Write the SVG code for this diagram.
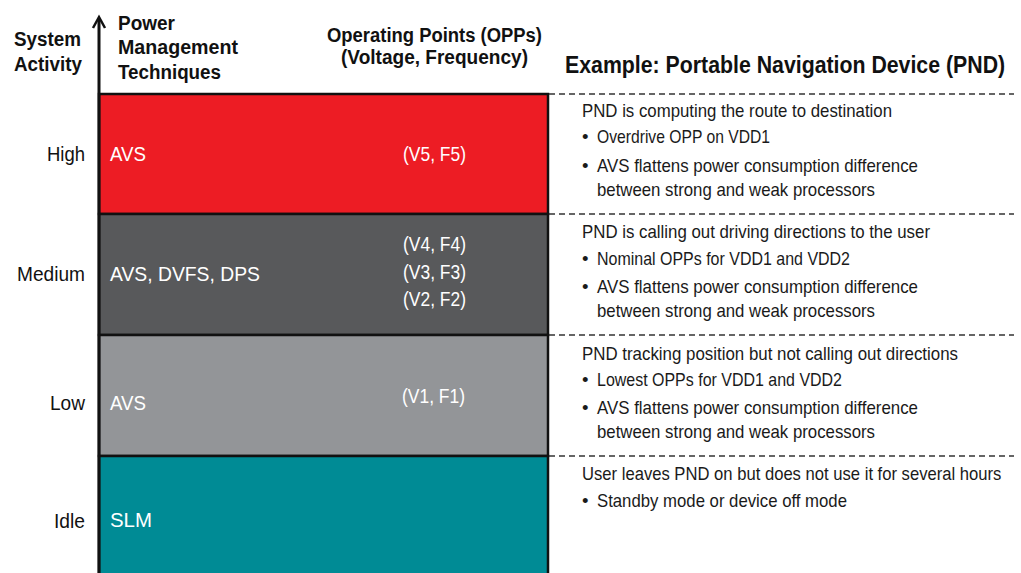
<svg xmlns="http://www.w3.org/2000/svg" width="1021" height="573" viewBox="0 0 1021 573">
<style>
text{font-family:"Liberation Sans",Arial,sans-serif}
.hb{font-weight:bold;font-size:20px;fill:#111}
.lvl{font-size:21px;fill:#111;text-anchor:end}
.bx{font-size:21px;fill:#fff}
.opp{font-size:21px;fill:#fff}
.rt{font-size:18.5px;fill:#1a1a1a}
.box{stroke:#111;stroke-width:2.5}
.dash{stroke:#333;stroke-width:1.5;stroke-dasharray:6 4;fill:none}
</style>
<rect width="1021" height="573" fill="#fff"/>
<g id="headers">
<text class="hb" x="14" y="46" textLength="67" lengthAdjust="spacingAndGlyphs">System</text>
<text class="hb" x="14" y="71" textLength="68" lengthAdjust="spacingAndGlyphs">Activity</text>
<text class="hb" x="118" y="30" textLength="57" lengthAdjust="spacingAndGlyphs">Power</text>
<text class="hb" x="118" y="54" textLength="120" lengthAdjust="spacingAndGlyphs">Management</text>
<text class="hb" x="118" y="79" textLength="103" lengthAdjust="spacingAndGlyphs">Techniques</text>
<text class="hb" x="327" y="42" textLength="215" lengthAdjust="spacingAndGlyphs">Operating Points (OPPs)</text>
<text class="hb" x="341" y="64" textLength="187" lengthAdjust="spacingAndGlyphs">(Voltage, Frequency)</text>
<text class="hb" transform="translate(565,73) scale(0.9,1)" style="font-size:23.5px" textLength="489" lengthAdjust="spacingAndGlyphs">Example: Portable Navigation Device (PND)</text>
</g>
<g id="levels">
<text class="lvl" x="85" y="161" textLength="38" lengthAdjust="spacingAndGlyphs">High</text>
<text class="lvl" x="85" y="281" textLength="68" lengthAdjust="spacingAndGlyphs">Medium</text>
<text class="lvl" x="85" y="410" textLength="35" lengthAdjust="spacingAndGlyphs">Low</text>
<text class="lvl" x="85" y="528" textLength="31" lengthAdjust="spacingAndGlyphs">Idle</text>
</g>
<g id="box-high">
<rect class="box" x="99" y="94" width="449" height="120" fill="#ED1C24"/>
<text class="bx" x="110" y="161" textLength="36" lengthAdjust="spacingAndGlyphs">AVS</text>
<text class="opp" x="403" y="161" textLength="63" lengthAdjust="spacingAndGlyphs">(V5, F5)</text>
</g>
<g id="box-medium">
<rect class="box" x="99" y="214" width="449" height="121" fill="#58595B"/>
<text class="bx" x="110" y="281" textLength="150" lengthAdjust="spacingAndGlyphs">AVS, DVFS, DPS</text>
<text class="opp" x="403" y="251" textLength="63" lengthAdjust="spacingAndGlyphs">(V4, F4)</text>
<text class="opp" x="403" y="279" textLength="63" lengthAdjust="spacingAndGlyphs">(V3, F3)</text>
<text class="opp" x="403" y="306" textLength="63" lengthAdjust="spacingAndGlyphs">(V2, F2)</text>
</g>
<g id="box-low">
<rect class="box" x="99" y="335" width="449" height="121" fill="#939598"/>
<text class="bx" x="110" y="410" textLength="36" lengthAdjust="spacingAndGlyphs">AVS</text>
<text class="opp" x="402" y="403" textLength="63" lengthAdjust="spacingAndGlyphs">(V1, F1)</text>
</g>
<g id="box-idle">
<rect class="box" x="99" y="456" width="449" height="130" fill="#008B95"/>
<text class="bx" x="110" y="527" textLength="42" lengthAdjust="spacingAndGlyphs">SLM</text>
</g>
<g id="connectors">
<line x1="99" y1="18" x2="99" y2="573" stroke="#111" stroke-width="3"/>
<polyline points="93,28 99,17 105,28" fill="none" stroke="#111" stroke-width="2.5"/>
<line class="dash" x1="549" y1="94" x2="1014" y2="94"/>
<line class="dash" x1="549" y1="214" x2="1014" y2="214"/>
<line class="dash" x1="549" y1="335" x2="1014" y2="335"/>
<line class="dash" x1="549" y1="456" x2="1014" y2="456"/>
</g>
<g id="desc-high">
<text class="rt" x="582" y="117" textLength="310" lengthAdjust="spacingAndGlyphs">PND is computing the route to destination</text>
<text class="rt" x="582" y="143">•</text>
<text class="rt" x="597" y="143" textLength="173" lengthAdjust="spacingAndGlyphs">Overdrive OPP on VDD1</text>
<text class="rt" x="582" y="172">•</text>
<text class="rt" x="597" y="172" textLength="321" lengthAdjust="spacingAndGlyphs">AVS flattens power consumption difference</text>
<text class="rt" x="597" y="196" textLength="278" lengthAdjust="spacingAndGlyphs">between strong and weak processors</text>
</g>
<g id="desc-medium">
<text class="rt" x="582" y="238" textLength="348" lengthAdjust="spacingAndGlyphs">PND is calling out driving directions to the user</text>
<text class="rt" x="582" y="265">•</text>
<text class="rt" x="597" y="265" textLength="253" lengthAdjust="spacingAndGlyphs">Nominal OPPs for VDD1 and VDD2</text>
<text class="rt" x="582" y="293">•</text>
<text class="rt" x="597" y="293" textLength="321" lengthAdjust="spacingAndGlyphs">AVS flattens power consumption difference</text>
<text class="rt" x="597" y="317" textLength="278" lengthAdjust="spacingAndGlyphs">between strong and weak processors</text>
</g>
<g id="desc-low">
<text class="rt" x="582" y="360" textLength="376" lengthAdjust="spacingAndGlyphs">PND tracking position but not calling out directions</text>
<text class="rt" x="582" y="386">•</text>
<text class="rt" x="597" y="386" textLength="245" lengthAdjust="spacingAndGlyphs">Lowest OPPs for VDD1 and VDD2</text>
<text class="rt" x="582" y="414">•</text>
<text class="rt" x="597" y="414" textLength="321" lengthAdjust="spacingAndGlyphs">AVS flattens power consumption difference</text>
<text class="rt" x="597" y="438" textLength="278" lengthAdjust="spacingAndGlyphs">between strong and weak processors</text>
</g>
<g id="desc-idle">
<text class="rt" transform="translate(582,480) scale(0.9,1)" textLength="466" lengthAdjust="spacingAndGlyphs">User leaves PND on but does not use it for several hours</text>
<text class="rt" x="582" y="507">•</text>
<text class="rt" x="597" y="507" textLength="250" lengthAdjust="spacingAndGlyphs">Standby mode or device off mode</text>
</g>
</svg>
